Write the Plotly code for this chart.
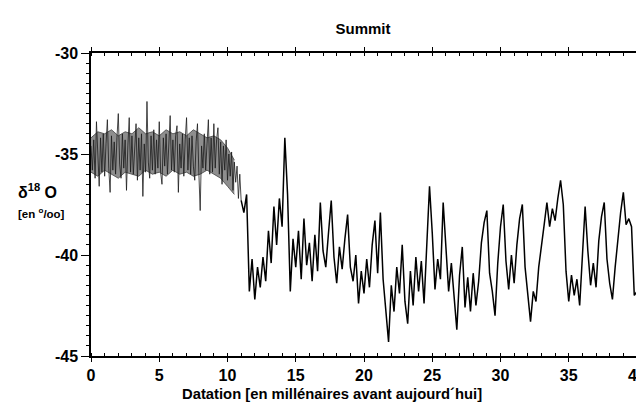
import numpy as np
import plotly.graph_objects as go

# ---- data ----
holo_step = 0.1   # ka between samples, 0 - 11 ka
holo_d18o = [
    -34.6, -35.8, -34.3, -36.2, -33.4, -35.6, -36.6, -34.2, -35.9, -34.0,   # 0.0-0.9
    -36.1, -34.5, -33.3, -35.7, -36.9, -34.1, -35.8, -34.4, -36.0, -34.2,   # 1.0-1.9
    -33.0, -35.5, -36.2, -34.0, -35.7, -34.3, -36.8, -34.6, -33.2, -35.9,   # 2.0-2.9
    -34.1, -36.0, -34.4, -33.5, -36.3, -34.2, -35.8, -34.0, -37.1, -34.5,   # 3.0-3.9
    -35.9, -32.4, -35.4, -36.2, -34.1, -35.8, -33.8, -36.0, -34.3, -35.7,   # 4.0-4.9
    -33.4, -35.9, -36.5, -34.2, -35.6, -34.0, -36.0, -34.4, -33.1, -35.8,   # 5.0-5.9
    -34.3, -35.9, -34.1, -33.6, -36.9, -34.5, -35.7, -34.0, -36.1, -34.3,   # 6.0-6.9
    -33.2, -35.8, -34.2, -36.0, -34.1, -35.6, -36.3, -34.4, -33.5, -35.9,   # 7.0-7.9
    -37.8, -34.6, -35.7, -34.0, -35.8, -34.5, -33.3, -36.0, -34.2, -35.9,   # 8.0-8.9
    -33.5, -35.7, -34.3, -33.7, -36.0, -34.4, -36.5, -34.6, -35.8, -34.3,   # 9.0-9.9
    -36.3, -35.0, -36.1, -34.9, -36.8, -35.4, -36.4, -35.6, -37.2, -36.0,   # 10.0-10.9
    -37.3,                                                                  # 11.0
]
glac_start = 11.2
glac_step = 0.2   # ka between samples, 11.2 - 40 ka
glac_d18o = [
    -37.9, -37.0, -41.8, -40.2,                                             # 11.2-11.8
    -42.2, -40.6, -41.6, -40.1, -41.3, -38.8, -40.4, -37.6, -39.5, -37.2,   # 12.0-13.8
    -38.6, -34.2, -37.0, -41.8, -39.2, -40.6, -38.8, -41.2, -38.2, -40.5,   # 14.0-15.8
    -39.4, -41.3, -39.0, -40.8, -37.4, -39.8, -40.6, -38.9, -37.3, -40.1,   # 16.0-17.8
    -41.4, -39.6, -40.7, -39.2, -38.0, -40.6, -41.3, -40.0, -42.4, -40.8,   # 18.0-19.8
    -41.9, -40.2, -41.6, -39.5, -38.3, -40.9, -37.9, -41.2, -42.6, -44.3,   # 20.0-21.8
    -41.5, -42.8, -40.6, -41.9, -39.5, -42.3, -43.4, -40.8, -42.5, -40.1,   # 22.0-23.8
    -41.8, -40.3, -42.4, -39.8, -36.6, -38.9, -41.7, -40.2, -41.2, -37.4,   # 24.0-25.8
    -39.6, -41.8, -40.4, -42.3, -43.7, -41.0, -39.6, -42.6, -41.1, -42.8,   # 26.0-27.8
    -40.9, -42.5, -41.3, -39.4, -38.4, -37.8, -40.9, -41.8, -43.0, -40.4,   # 28.0-29.8
    -38.6, -37.5, -40.3, -41.7, -40.0, -41.4, -39.5, -38.2, -37.5, -40.6,   # 30.0-31.8
    -41.9, -43.3, -41.8, -42.3, -40.6, -39.4, -38.5, -37.4, -38.6, -37.7,   # 32.0-33.8
    -38.3, -37.2, -36.3, -37.5, -40.8, -42.3, -41.0, -42.0, -41.2, -42.5,   # 34.0-35.8
    -40.1, -37.6, -39.8, -41.5, -40.4, -41.6, -39.3, -38.1, -37.4, -40.2,   # 36.0-37.8
    -41.4, -42.2, -40.6, -39.2, -37.9, -36.9, -38.5, -38.2, -38.6, -42.0,   # 38.0-39.8
    -41.8,                                                                  # 40.0
]

# Holocene band envelope (grey halftone zone)
band_step = 0.5
band_upper = [-34.2, -33.9, -34.0, -33.8, -34.1, -33.9, -34.0, -33.7, -34.0, -33.9, -34.1,
              -33.8, -34.0, -33.9, -34.1, -33.8, -34.0, -34.2, -34.1, -34.3, -34.7, -35.3]
band_lower = [-35.9, -36.1, -35.8, -36.0, -36.2, -35.9, -36.0, -36.1, -35.8, -36.0, -35.9,
              -36.1, -35.8, -36.0, -35.9, -36.1, -36.0, -35.8, -36.0, -36.2, -36.6, -37.0]

x_ticks = [0, 5, 10, 15, 20, 25, 30, 35, 40]
y_ticks = [-45, -40, -35, -30]

holo_ages = np.round(np.arange(len(holo_d18o)) * holo_step, 2)
glac_ages = np.round(glac_start + np.arange(len(glac_d18o)) * glac_step, 2)
band_ages = np.round(np.arange(len(band_upper)) * band_step, 2)

FONT = "Liberation Sans, Arial, sans-serif"

fig = go.Figure()
fig.add_trace(go.Scatter(x=band_ages, y=band_upper, mode="lines",
                         line=dict(color="#444444", width=0.8), hoverinfo="skip"))
fig.add_trace(go.Scatter(x=band_ages, y=band_lower, mode="lines", fill="tonexty",
                         fillcolor="#8e8e8e", line=dict(color="#444444", width=0.8),
                         hoverinfo="skip"))
fig.add_trace(go.Scatter(x=holo_ages, y=holo_d18o, mode="lines",
                         line=dict(color="#1a1a1a", width=0.8)))
fig.add_trace(go.Scatter(x=np.concatenate([holo_ages[-1:], glac_ages]),
                         y=[holo_d18o[-1]] + glac_d18o, mode="lines",
                         line=dict(color="black", width=1.5)))

fig.update_layout(
    width=644, height=407,
    margin=dict(l=83, r=5, t=45, b=59),
    paper_bgcolor="white", plot_bgcolor="white",
    showlegend=False,
    font=dict(family=FONT, size=15, color="black"),
    title=dict(text="<b>Summit</b>", x=355 / 644, xanchor="center",
               y=1 - 21 / 407, yanchor="middle", font=dict(size=15)),
)
fig.update_xaxes(
    range=[0, 40], tickvals=x_ticks, ticktext=[f"<b>{v}</b>" for v in x_ticks],
    showgrid=False, zeroline=False, showline=True, linecolor="black", linewidth=1.5,
    mirror="allticks", ticks="outside", ticklen=4, tickwidth=1.3, tickcolor="black",
    minor=dict(dtick=1, ticks="inside", ticklen=3, tickcolor="black", tickwidth=1),
    tickfont=dict(size=16),
)
fig.update_yaxes(
    range=[-45, -30], tickvals=y_ticks, ticktext=[f"<b>{v}</b>" for v in y_ticks],
    showgrid=False, zeroline=False, showline=True, linecolor="black", linewidth=1.5,
    mirror="allticks", ticks="outside", ticklen=8, tickwidth=1.3, tickcolor="black",
    minor=dict(dtick=0.5, ticks="outside", ticklen=3, tickcolor="black", tickwidth=1),
    tickfont=dict(size=16),
)

# x-axis title (offset to the left of plot centre as in the original)
fig.add_annotation(text="<b>Datation [en millénaires avant aujourd´hui]</b>",
                   xref="paper", yref="paper", x=(328 - 83) / 556, y=-(386 - 348) / 303,
                   xanchor="center", yanchor="middle", showarrow=False,
                   font=dict(size=14.8))
# y-axis label
fig.add_annotation(text="<b>δ<sup>18</sup> O</b>", xref="paper", yref="paper",
                   x=-76 / 556, y=1 - (183 - 45) / 303, xanchor="left", yanchor="middle",
                   showarrow=False, font=dict(size=16))
fig.add_annotation(text="<b>[en <sup>o</sup>/oo]</b>", xref="paper", yref="paper",
                   x=-76 / 556, y=1 - (205 - 45) / 303, xanchor="left", yanchor="middle",
                   showarrow=False, font=dict(size=11.5))

fig.write_html("out.html")
